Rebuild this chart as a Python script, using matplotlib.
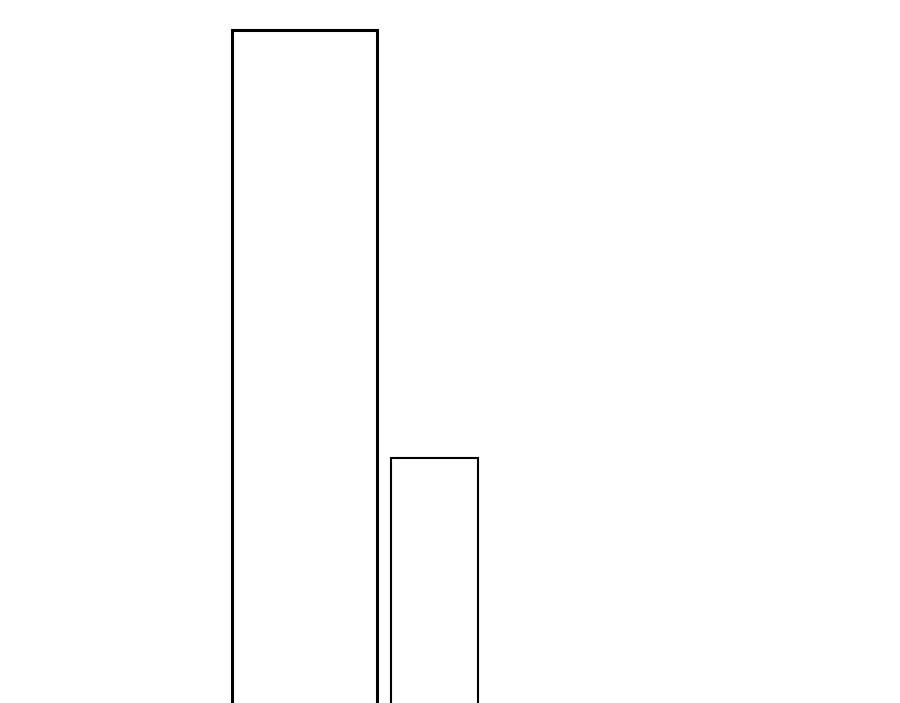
import matplotlib
matplotlib.use("Agg")
import matplotlib.pyplot as plt

categories = ["A", "B"]
values = [100, 40]
positions = [0, 1]
widths = [1.117, 0.668]
linewidths = [2.2, 1.5]

fig = plt.figure(figsize=(9, 7.03), dpi=100)
ax = fig.add_axes([0, 0, 1, 1])
for p, v, w, lw in zip(positions, values, widths, linewidths):
    ax.bar(p, v, width=w, facecolor="none", edgecolor="black", linewidth=lw)
ax.set_xlim(-2.336, 4.574)
ax.set_ylim(5.61, 104.28)
ax.axis("off")
fig.savefig("out.png", dpi=100)
